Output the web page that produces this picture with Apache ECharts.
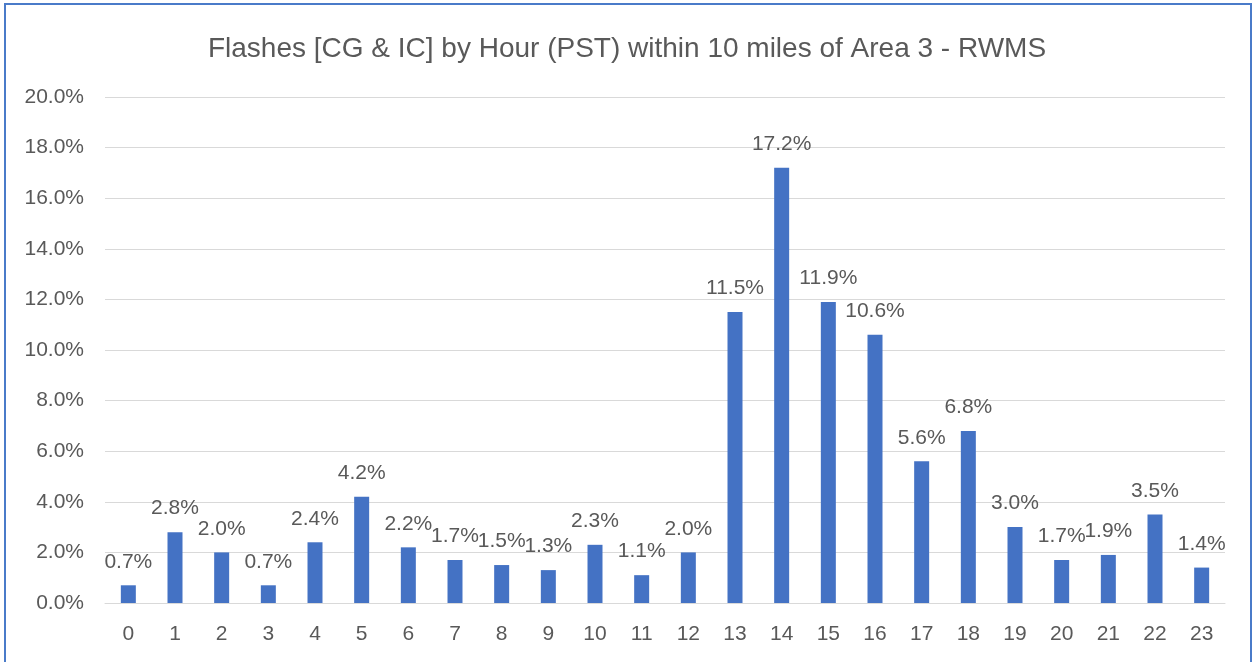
<!DOCTYPE html>
<html>
<head>
<meta charset="utf-8">
<script src="https://cdn.jsdelivr.net/npm/echarts@6/dist/echarts.min.js"></script>
<style>
  html, body { margin: 0; padding: 0; background: #fff; }
  #chart { width: 1254px; height: 662px; }
</style>
</head>
<body>
<div id="chart"></div>
<script>
// Hour of day (PST)
const hours = ['0','1','2','3','4','5','6','7','8','9','10','11','12','13','14','15','16','17','18','19','20','21','22','23'];
// Share of flashes per hour, percent
const sharePct = [0.7, 2.8, 2.0, 0.7, 2.4, 4.2, 2.2, 1.7, 1.5, 1.3, 2.3, 1.1, 2.0, 11.5, 17.2, 11.9, 10.6, 5.6, 6.8, 3.0, 1.7, 1.9, 3.5, 1.4];
// Y axis range and step, percent
const yMin = 0, yMax = 20, yStep = 2;

const fontFamily = 'Liberation Sans, Arial, sans-serif';
const textColor = '#595959';

const chart = echarts.init(document.getElementById('chart'), null, { renderer: 'canvas' });
chart.setOption({
  animation: false,
  backgroundColor: '#ffffff',
  title: {
    text: 'Flashes [CG & IC] by Hour (PST) within 10 miles of Area 3 - RWMS',
    left: 'center',
    top: 30,
    textStyle: { fontFamily, fontSize: 28, fontWeight: 'normal', color: textColor }
  },
  graphic: [{
    type: 'rect',
    shape: { x: 5, y: 4, width: 1246, height: 700 },
    style: { fill: 'none', stroke: '#4A7BC9', lineWidth: 2 },
    silent: true
  }],
  grid: { left: 105, right: 29, top: 97, bottom: 59, containLabel: false },
  xAxis: {
    type: 'category',
    data: hours,
    axisLine: { show: true, lineStyle: { color: '#d9d9d9', width: 1 } },
    axisTick: { show: false },
    axisLabel: { color: textColor, fontFamily, fontSize: 21, margin: 21 }
  },
  yAxis: {
    type: 'value',
    min: yMin, max: yMax, interval: yStep,
    axisLine: { show: false },
    axisTick: { show: false },
    splitLine: { lineStyle: { color: '#d9d9d9', width: 1 } },
    axisLabel: {
      color: textColor, fontFamily, fontSize: 21, margin: 21,
      formatter: v => v.toFixed(1) + '%'
    }
  },
  series: [{
    type: 'bar',
    data: sharePct,
    barWidth: 15,
    itemStyle: { color: '#4472C4' },
    label: {
      show: true,
      position: 'top',
      distance: 13,
      color: textColor,
      fontFamily,
      fontSize: 21,
      formatter: p => p.value.toFixed(1) + '%'
    }
  }]
});
</script>
</body>
</html>
